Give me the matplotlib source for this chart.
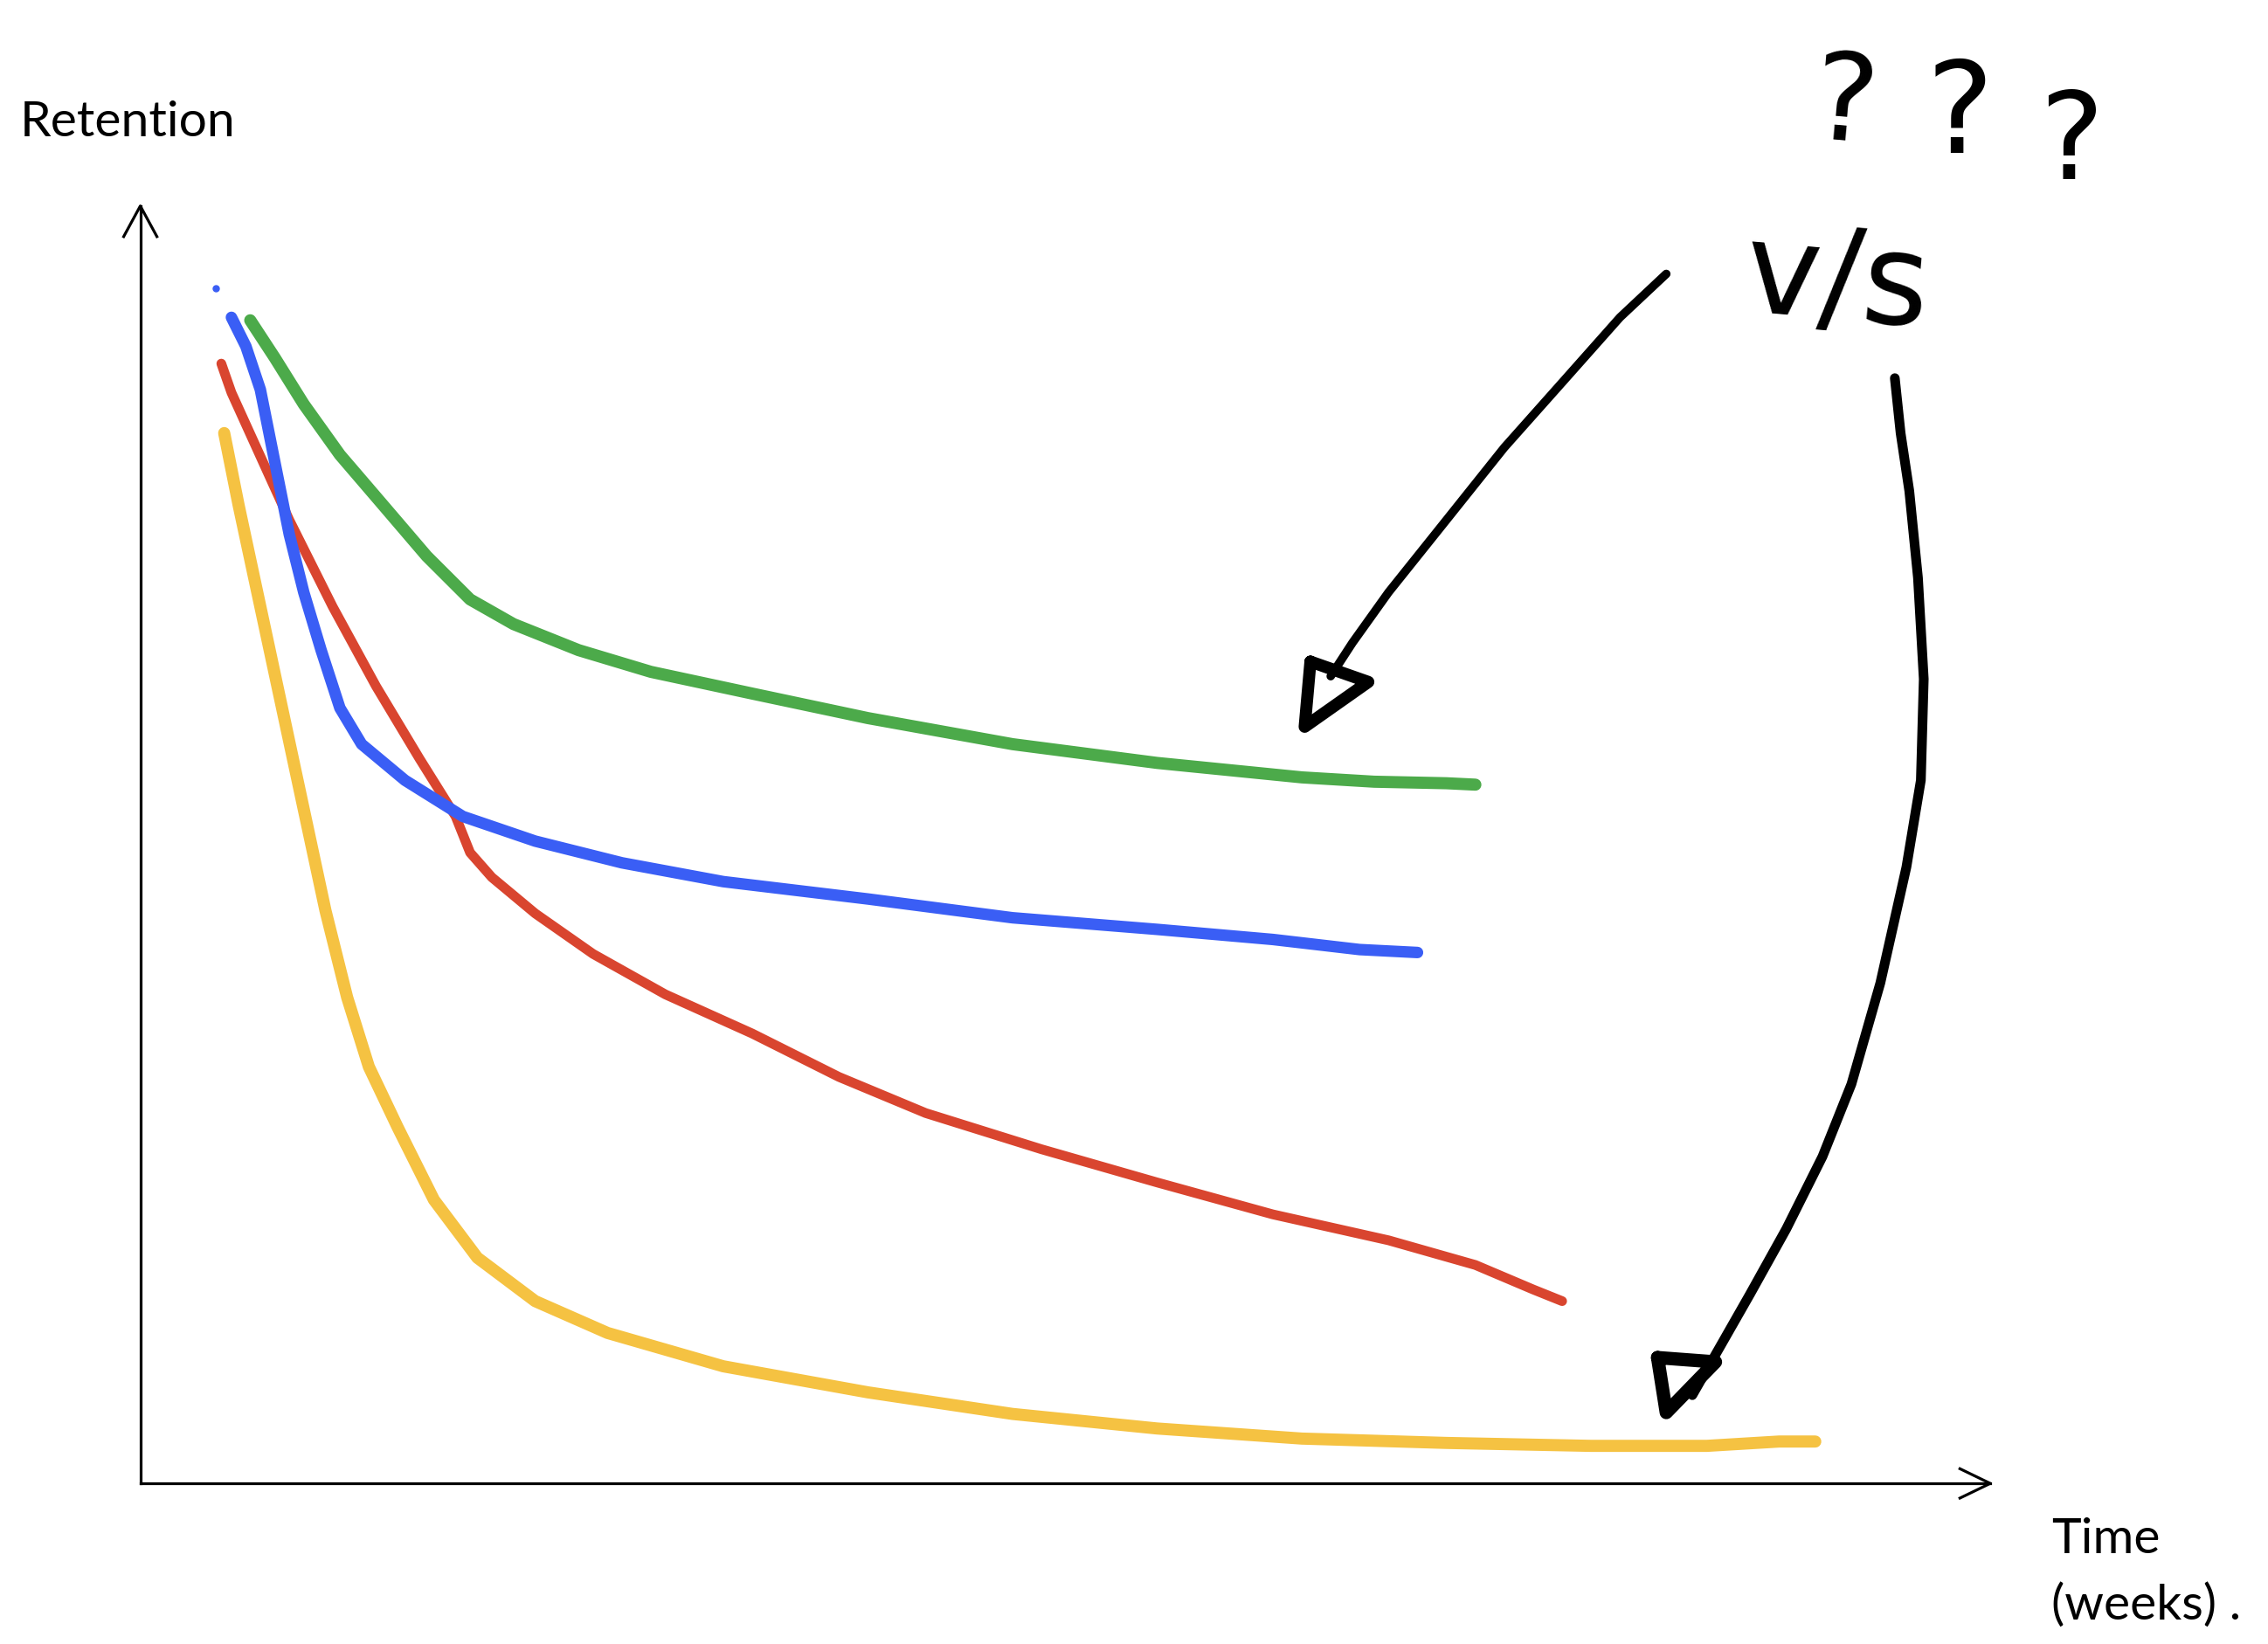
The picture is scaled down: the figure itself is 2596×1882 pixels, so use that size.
#!/usr/bin/env python
# -*- coding: utf-8 -*-

'''
    Hand-drawn style sketch: retention curves over time (weeks),
    with two arrows asking which curves to compare ("v/s ???").
'''

import matplotlib
matplotlib.use("Agg")
import matplotlib.pyplot as plt

# Curve data (x = weeks, y = retention %)
green_weeks = [0.76, 0.93, 1.13, 1.38, 1.68, 1.98, 2.28, 2.58, 3.03, 3.53,
               4.23, 5.03, 6.03, 7.03, 8.03, 8.53, 9.03, 9.23]
green_ret = [91.05, 88.11, 84.48, 80.52, 76.56, 72.59, 69.20, 67.27, 65.23,
             63.53, 61.83, 59.91, 57.87, 56.40, 55.27, 54.93, 54.81, 54.70]

blue_weeks = [0.63, 0.73, 0.83, 0.93, 1.03, 1.13, 1.25, 1.38, 1.53, 1.83,
              2.23, 2.73, 3.33, 4.03, 5.03, 6.03, 7.03, 7.83, 8.43, 8.83]
blue_ret = [91.28, 89.01, 85.62, 79.95, 74.29, 69.76, 65.23, 60.70, 57.87,
            55.04, 52.21, 50.28, 48.58, 47.11, 45.75, 44.28, 43.37, 42.58,
            41.79, 41.56]
blue_dot = (0.52, 93.54)

red_weeks = [0.56, 0.63, 0.78, 1.03, 1.33, 1.63, 1.93, 2.18, 2.28, 2.43,
             2.73, 3.13, 3.63, 4.23, 4.83, 5.43, 6.23, 7.03, 7.83, 8.63,
             9.23, 9.63, 9.83]
red_ret = [87.66, 85.39, 81.65, 75.42, 68.63, 62.40, 56.74, 52.21, 49.38,
           47.45, 44.62, 41.45, 38.28, 35.22, 31.82, 28.99, 26.16, 23.56,
           21.06, 19.03, 17.10, 15.18, 14.27]

yellow_weeks = [0.58, 0.68, 0.83, 0.98, 1.13, 1.28, 1.43, 1.58, 1.78, 2.03,
                2.33, 2.73, 3.23, 4.03, 5.03, 6.03, 7.03, 8.03, 9.03, 10.03,
                10.83, 11.33, 11.58]
yellow_ret = [82.22, 76.56, 68.63, 60.70, 52.77, 44.85, 38.05, 32.62, 27.86,
              22.20, 17.67, 14.27, 11.78, 9.17, 7.13, 5.44, 4.30, 3.51, 3.17,
              2.94, 2.94, 3.28, 3.28]

# Hand-drawn pointer arrows (shaft + triangle head)
arrow1_x = [10.55, 10.23, 9.83, 9.43, 9.03, 8.63, 8.38, 8.23]
arrow1_y = [94.68, 91.28, 86.18, 81.09, 75.42, 69.76, 65.80, 63.19]
head1_x = [8.09, 8.49, 8.05, 8.09]
head1_y = [64.33, 62.74, 59.23, 64.33]

arrow2_x = [12.13, 12.17, 12.23, 12.29, 12.33, 12.31, 12.21, 12.03, 11.83,
            11.63, 11.38, 11.13, 10.93, 10.73]
arrow2_y = [86.52, 82.22, 77.69, 70.89, 62.97, 55.04, 48.24, 39.18, 31.26,
            25.59, 19.93, 14.84, 10.87, 6.91]
head2_x = [10.49, 10.89, 10.55, 10.49]
head2_y = [9.85, 9.51, 5.55, 9.85]

x_axis_end = 12.79
y_axis_end = 100.0


def main():

    fig = plt.figure(figsize=(25.96, 18.83), dpi=100)
    ax = fig.add_axes([0, 0, 1, 1])
    ax.set_xlim(-0.97, 14.71)
    ax.set_ylim(-12.57, 116.19)
    ax.axis("off")

    # Axes with open arrow heads
    ax.plot([0, 0], [0, y_axis_end], color="black", lw=2.3)
    ax.plot([0, x_axis_end], [0, 0], color="black", lw=2.3)
    ax.plot([-0.115, 0, 0.115], [y_axis_end - 2.4, y_axis_end, y_axis_end - 2.4],
            color="black", lw=2.3)
    ax.plot([x_axis_end - 0.21, x_axis_end, x_axis_end - 0.21], [1.15, 0, -1.15],
            color="black", lw=2.3)

    # Retention curves
    style = dict(solid_capstyle="round", solid_joinstyle="round")
    ax.plot(yellow_weeks, yellow_ret, color="#f5c242", lw=10, **style)
    ax.plot(red_weeks, red_ret, color="#d9452f", lw=8, **style)
    ax.plot(blue_weeks, blue_ret, color="#3a5ef5", lw=9.5, **style)
    ax.plot(green_weeks, green_ret, color="#4caa4a", lw=10, **style)
    ax.plot(*blue_dot, marker="o", ms=5, color="#3a5ef5")

    # Black pointer arrows
    ax.plot(arrow1_x, arrow1_y, color="black", lw=7, **style)
    ax.plot(head1_x, head1_y, color="black", lw=10, **style)
    ax.plot(arrow2_x, arrow2_y, color="black", lw=8, **style)
    ax.plot(head2_x, head2_y, color="black", lw=11, **style)

    # Hand-written notes
    hand = dict(family="DejaVu Sans", color="black", ha="center", va="center")
    ax.text(11.78, 107.8, "?", fontsize=100, rotation=-5, **hand)
    ax.text(12.58, 107.0, "?", fontsize=105, **hand)
    ax.text(13.35, 104.8, "?", fontsize=100, **hand)
    ax.text(11.73, 94.0, "v/s", fontsize=105, rotation=-5, **hand)

    # Axis labels
    ax.text(-0.83, 105.5, "Retention", family="Lato", fontsize=41,
            ha="left", va="baseline")
    ax.text(13.21, -5.36, "Time", family="Lato", fontsize=41,
            ha="left", va="baseline")
    ax.text(13.21, -10.57, "(weeks) .", family="Lato", fontsize=41,
            ha="left", va="baseline")

    plt.savefig("out.png", dpi=100, facecolor="white")


if __name__ == "__main__":

    main()
